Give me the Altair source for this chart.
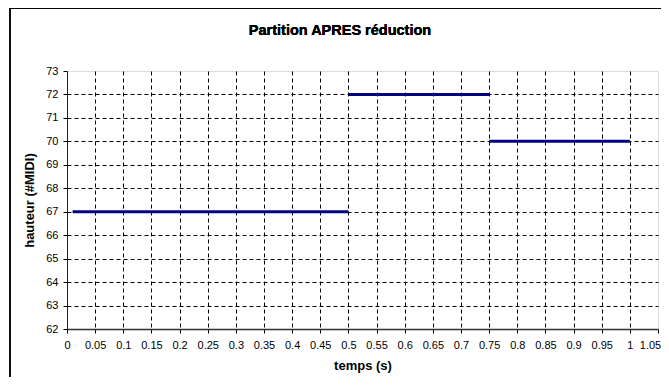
import altair as alt
import pandas as pd

# Segments of the reduced score (time in s, MIDI pitch)
seg_start = [0.01, 0.5, 0.75]
seg_end = [0.5, 0.75, 1.0]
pitch = [67, 72, 70]

x_ticks = [0, 0.05, 0.1, 0.15, 0.2, 0.25, 0.3, 0.35, 0.4, 0.45, 0.5, 0.55,
           0.6, 0.65, 0.7, 0.75, 0.8, 0.85, 0.9, 0.95, 1, 1.05]
y_ticks = [62, 63, 64, 65, 66, 67, 68, 69, 70, 71, 72, 73]

title_text = "Partition APRES réduction"
x_title = "temps (s)"
y_title = "hauteur (#MIDI)"

df = pd.DataFrame({"start": seg_start, "end": seg_end, "pitch": pitch})

FONT = "Liberation Sans"

x_axis = alt.Axis(
    values=x_ticks, format="~g", title=x_title,
    labelFont=FONT, labelFontSize=11, labelColor="black", labelPadding=6,
    labelFlush=False, labelOverlap=False,
    labelOffset=alt.condition("datum.value > 1.02", alt.value(-8), alt.value(0)),
    titleFont=FONT, titleFontSize=13, titleFontWeight="bold", titleColor="black",
    titlePadding=9,
    tickColor="black", tickSize=4, tickWidth=1,
    domainColor="#333333", domainWidth=1.5,
    grid=True, gridColor="black", gridDash=[4, 3], gridWidth=1,
    gridOpacity=alt.condition("datum.value > 1.02 || datum.value < 0.01", alt.value(0), alt.value(1)),
)

y_axis = alt.Axis(
    values=y_ticks, format="d", title=y_title,
    labelFont=FONT, labelFontSize=11, labelColor="black", labelPadding=5,
    labelFlush=False, labelOverlap=False,
    titleFont=FONT, titleFontSize=13, titleFontWeight="bold", titleColor="black",
    titlePadding=9,
    tickColor="black", tickSize=4, tickWidth=1,
    domainColor="#222222", domainWidth=1,
    grid=True, gridColor="black", gridDash=[4, 3], gridWidth=1,
    gridOpacity=alt.condition("datum.value > 72.5 || datum.value < 62.5", alt.value(0), alt.value(1)),
)

segments = alt.Chart(df).mark_rule(color="#000080", strokeWidth=3, strokeCap="butt").encode(
    x=alt.X("start:Q", scale=alt.Scale(domain=[0, 1.05], nice=False, zero=False), axis=x_axis),
    x2="end:Q",
    y=alt.Y("pitch:Q", scale=alt.Scale(domain=[62, 73], nice=False, zero=False), axis=y_axis),
)

frame = alt.Chart(df).mark_rect(fill=None, stroke="black", strokeWidth=1.2, clip=False).encode(
    x=alt.value(-57), x2=alt.value(640), y=alt.value(-62.5), y2=alt.value(340)
)

title = alt.Chart(df).mark_text(
    font=FONT, fontSize=14.5, fontWeight="bold", color="black",
    align="center", baseline="middle", clip=False,
).encode(
    x=alt.value(273), y=alt.value(-40), text=alt.value(title_text)
)

chart = alt.layer(segments, frame, title).properties(
    width=591, height=258,
    autosize=alt.AutoSizeParams(type="none"),
    padding={"left": 59, "top": 63, "right": 3, "bottom": 48},
).configure_view(stroke="#808080", strokeWidth=1).configure(background="white")

chart.save("out.html", embed_options={"renderer": "svg", "actions": False})
